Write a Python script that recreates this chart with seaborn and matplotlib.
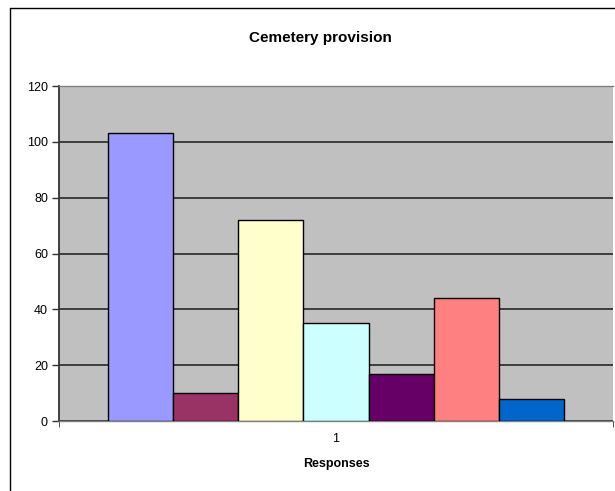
import pandas as pd
import matplotlib
matplotlib.use('Agg')
import matplotlib.pyplot as plt
import seaborn as sns
from matplotlib.lines import Line2D

# Chart data
categories = ['1'] * 7
series = ['S1', 'S2', 'S3', 'S4', 'S5', 'S6', 'S7']
values = [103, 10, 72, 35, 17, 44, 8]
colors = ['#9999FF', '#993366', '#FFFFCC', '#CCFFFF', '#660066', '#FF8080', '#0066CC']
y_ticks = [0, 20, 40, 60, 80, 100, 120]

df = pd.DataFrame({'cat': categories, 'series': series, 'value': values})

sns.set_style('white')
plt.rcParams['font.family'] = ['Liberation Sans', 'DejaVu Sans']
plt.rcParams['text.color'] = 'black'
plt.rcParams['xtick.color'] = 'black'
plt.rcParams['ytick.color'] = 'black'
plt.rcParams['axes.labelcolor'] = 'black'

fig = plt.figure(figsize=(6.15, 4.91), dpi=100)
ax = fig.add_axes([59 / 615, 70 / 491, 554 / 615, 335 / 491])
ax.set_facecolor('#C0C0C0')

sns.barplot(data=df, x='cat', y='value', hue='series', palette=colors,
            saturation=1, width=0.823, gap=0, edgecolor='black', linewidth=1,
            legend=False, ax=ax, zorder=3)

ax.set_xlim(-0.5, 0.5)
ax.set_ylim(0, 120)
ax.set_yticks(y_ticks)
ax.yaxis.grid(True, color='#333333', linewidth=1.3, zorder=0)
ax.set_axisbelow(True)

ax.tick_params(axis='y', direction='out', length=5, width=1, color='#333333',
               labelsize=9, pad=3, left=True)
ax.tick_params(axis='x', length=0, labelsize=9, pad=9)
ax.set_xticks([-0.5, 0.5], minor=True)
ax.tick_params(axis='x', which='minor', direction='out', length=4, color='#333333', bottom=True)

for side in ['top', 'right', 'bottom']:
    ax.spines[side].set_color('#808080')
    ax.spines[side].set_linewidth(1)
ax.spines['right'].set_visible(False)
ax.spines['left'].set_color('#333333')
ax.spines['left'].set_linewidth(1.3)

ax.set_xlabel('Responses', fontsize=9, fontweight='bold', labelpad=9)
ax.set_ylabel('')
fig.text(320 / 615, 1 - 38 / 491, 'Cemetery provision', ha='center', va='center',
         fontsize=11, fontweight='bold')

# chart area border (cropped on the right and bottom)
fig.add_artist(Line2D([9.5 / 615, 9.5 / 615], [0, 1 - 7.5 / 491], color='black', linewidth=1))
fig.add_artist(Line2D([9.5 / 615, 1], [1 - 7.5 / 491, 1 - 7.5 / 491], color='black', linewidth=1))

fig.savefig('out.png', dpi=100)
